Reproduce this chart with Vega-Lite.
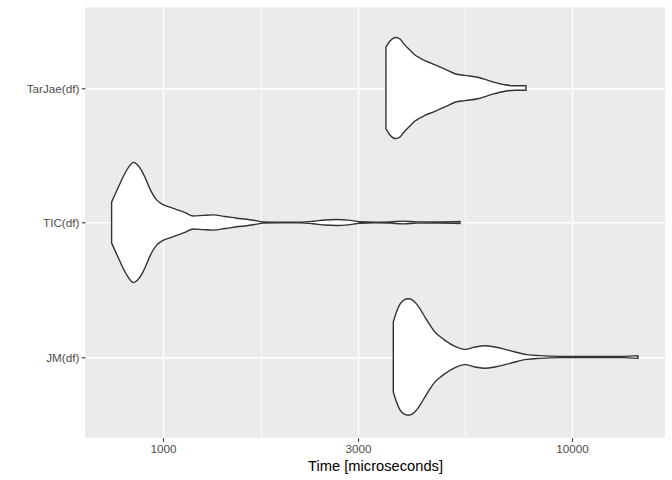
{
  "$schema": "https://vega.github.io/schema/vega-lite/v6.json",
  "width": 580,
  "height": 430.4,
  "autosize": {"type": "none"},
  "padding": {"left": 85, "top": 7.3, "right": 7, "bottom": 42.3},
  "background": "white",
  "data": {"values": [
    {"expr":"TarJae(df)","time":3509,"w":0.304},
    {"expr":"TarJae(df)","time":3589,"w":0.349},
    {"expr":"TarJae(df)","time":3706,"w":0.376},
    {"expr":"TarJae(df)","time":3797,"w":0.364},
    {"expr":"TarJae(df)","time":3905,"w":0.319},
    {"expr":"TarJae(df)","time":4016,"w":0.282},
    {"expr":"TarJae(df)","time":4131,"w":0.245},
    {"expr":"TarJae(df)","time":4250,"w":0.223},
    {"expr":"TarJae(df)","time":4371,"w":0.203},
    {"expr":"TarJae(df)","time":4522,"w":0.185},
    {"expr":"TarJae(df)","time":4703,"w":0.163},
    {"expr":"TarJae(df)","time":4920,"w":0.137},
    {"expr":"TarJae(df)","time":5176,"w":0.106},
    {"expr":"TarJae(df)","time":5476,"w":0.094},
    {"expr":"TarJae(df)","time":5891,"w":0.08},
    {"expr":"TarJae(df)","time":6375,"w":0.047},
    {"expr":"TarJae(df)","time":6859,"w":0.024},
    {"expr":"TarJae(df)","time":7256,"w":0.017},
    {"expr":"TarJae(df)","time":7719,"w":0.017},
    {"expr":"TIC(df)","time":749,"w":0.152},
    {"expr":"TIC(df)","time":777.7,"w":0.262},
    {"expr":"TIC(df)","time":807.5,"w":0.366},
    {"expr":"TIC(df)","time":826,"w":0.415},
    {"expr":"TIC(df)","time":846,"w":0.447},
    {"expr":"TIC(df)","time":866,"w":0.43},
    {"expr":"TIC(df)","time":887,"w":0.386},
    {"expr":"TIC(df)","time":909,"w":0.319},
    {"expr":"TIC(df)","time":929.4,"w":0.25},
    {"expr":"TIC(df)","time":965,"w":0.168},
    {"expr":"TIC(df)","time":992.7,"w":0.139},
    {"expr":"TIC(df)","time":1040,"w":0.114},
    {"expr":"TIC(df)","time":1080,"w":0.096},
    {"expr":"TIC(df)","time":1132,"w":0.074},
    {"expr":"TIC(df)","time":1186,"w":0.048},
    {"expr":"TIC(df)","time":1253,"w":0.053},
    {"expr":"TIC(df)","time":1327,"w":0.057},
    {"expr":"TIC(df)","time":1418,"w":0.045},
    {"expr":"TIC(df)","time":1514,"w":0.032},
    {"expr":"TIC(df)","time":1602,"w":0.024},
    {"expr":"TIC(df)","time":1663,"w":0.017},
    {"expr":"TIC(df)","time":1759,"w":0.005},
    {"expr":"TIC(df)","time":1932,"w":0.003},
    {"expr":"TIC(df)","time":2163,"w":0.003},
    {"expr":"TIC(df)","time":2327,"w":0.009},
    {"expr":"TIC(df)","time":2489,"w":0.019},
    {"expr":"TIC(df)","time":2659,"w":0.022},
    {"expr":"TIC(df)","time":2834,"w":0.018},
    {"expr":"TIC(df)","time":3031,"w":0.006},
    {"expr":"TIC(df)","time":3299,"w":0.003},
    {"expr":"TIC(df)","time":3589,"w":0.005},
    {"expr":"TIC(df)","time":3862,"w":0.01},
    {"expr":"TIC(df)","time":4178,"w":0.005},
    {"expr":"TIC(df)","time":4756,"w":0.004},
    {"expr":"TIC(df)","time":5324,"w":0.0075},
    {"expr":"JM(df)","time":3657,"w":0.26},
    {"expr":"JM(df)","time":3723,"w":0.334},
    {"expr":"JM(df)","time":3797,"w":0.393},
    {"expr":"JM(df)","time":3883,"w":0.423},
    {"expr":"JM(df)","time":3979,"w":0.433},
    {"expr":"JM(df)","time":4074,"w":0.423},
    {"expr":"JM(df)","time":4172,"w":0.393},
    {"expr":"JM(df)","time":4269,"w":0.349},
    {"expr":"JM(df)","time":4371,"w":0.297},
    {"expr":"JM(df)","time":4496,"w":0.237},
    {"expr":"JM(df)","time":4624,"w":0.185},
    {"expr":"JM(df)","time":4756,"w":0.152},
    {"expr":"JM(df)","time":4892,"w":0.124},
    {"expr":"JM(df)","time":5176,"w":0.079},
    {"expr":"JM(df)","time":5476,"w":0.057},
    {"expr":"JM(df)","time":5792,"w":0.074},
    {"expr":"JM(df)","time":6129,"w":0.084},
    {"expr":"JM(df)","time":6482,"w":0.074},
    {"expr":"JM(df)","time":6859,"w":0.057},
    {"expr":"JM(df)","time":7256,"w":0.037},
    {"expr":"JM(df)","time":7750,"w":0.018},
    {"expr":"JM(df)","time":8353,"w":0.01},
    {"expr":"JM(df)","time":9348,"w":0.005},
    {"expr":"JM(df)","time":10462,"w":0.0045},
    {"expr":"JM(df)","time":11708,"w":0.004},
    {"expr":"JM(df)","time":13326,"w":0.005},
    {"expr":"JM(df)","time":14503,"w":0.01}
  ]},
  "transform": [
    {"calculate": "indexof(['JM(df)','TIC(df)','TarJae(df)'], datum.expr) + 1", "as": "pos"},
    {"calculate": "datum.pos + datum.w", "as": "upper"},
    {"calculate": "datum.pos - datum.w", "as": "lower"}
  ],
  "mark": {"type": "area", "fill": "white", "stroke": "#333333", "strokeWidth": 1.4, "interpolate": "monotone", "strokeJoin": "round"},
  "encoding": {
    "x": {
      "field": "time", "type": "quantitative",
      "scale": {"type": "log", "domain": [644.8, 16880], "nice": false},
      "axis": {
        "title": "Time [microseconds]",
        "values": [1000, 1732.05, 3000, 5477.23, 10000],
        "labelExpr": "(datum.value == 1000 || datum.value == 3000 || datum.value == 10000) ? toString(datum.value) : ''",
        "gridWidth": {"condition": {"test": "datum.value == 1000 || datum.value == 3000 || datum.value == 10000", "value": 1.4}, "value": 0.7},
        "tickOpacity": {"condition": {"test": "datum.value == 1000 || datum.value == 3000 || datum.value == 10000", "value": 1}, "value": 0},
        "titlePadding": 3
      }
    },
    "y": {
      "field": "upper", "type": "quantitative",
      "scale": {"domain": [0.4, 3.6], "nice": false, "zero": false},
      "axis": {
        "title": null,
        "values": [1, 2, 3],
        "labelExpr": "datum.value == 1 ? 'JM(df)' : datum.value == 2 ? 'TIC(df)' : 'TarJae(df)'",
        "gridWidth": 1.4
      }
    },
    "y2": {"field": "lower"},
    "detail": {"field": "expr"}
  },
  "config": {
    "view": {"fill": "#EBEBEB", "stroke": null},
    "axis": {
      "domain": false,
      "grid": true,
      "gridColor": "white",
      "tickColor": "#333333",
      "tickSize": 3.6,
      "tickWidth": 1.1,
      "labelColor": "#4D4D4D",
      "labelFont": "Liberation Sans",
      "labelFontSize": 11.7,
      "labelPadding": 2.5,
      "labelOverlap": false,
      "labelFlush": false,
      "titleFont": "Liberation Sans",
      "titleFontSize": 14.7,
      "titleFontWeight": "normal",
      "titleColor": "black"
    }
  }
}
